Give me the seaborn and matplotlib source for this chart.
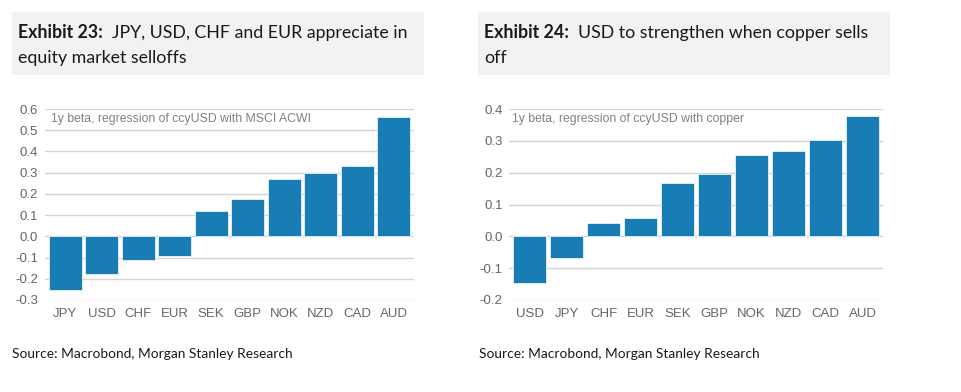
import numpy as np
import pandas as pd
import matplotlib
matplotlib.use("Agg")
import matplotlib.pyplot as plt
from matplotlib.patches import Rectangle
import seaborn as sns

# Exhibit 23: beta to MSCI ACWI
ccy_equity = ["JPY", "USD", "CHF", "EUR", "SEK", "GBP", "NOK", "NZD", "CAD", "AUD"]
beta_equity = [-0.253, -0.179, -0.110, -0.094, 0.118, 0.174, 0.270, 0.300, 0.331, 0.561]

# Exhibit 24: beta to copper
ccy_copper = ["USD", "JPY", "CHF", "EUR", "SEK", "GBP", "NOK", "NZD", "CAD", "AUD"]
beta_copper = [-0.148, -0.067, 0.041, 0.057, 0.166, 0.195, 0.254, 0.269, 0.302, 0.377]

sns.set_theme(style="white")
plt.rcParams['font.family'] = ['Liberation Sans', 'DejaVu Sans']

W, H = 962, 392
fig = plt.figure(figsize=(W / 100, H / 100), dpi=100)

bar_color = "#177db4"
tick_color = "#666666"
grid_color = "#d4d4d4"


def px_axes(x0, x1, ytop, ybot):
    return fig.add_axes([x0 / W, (H - ybot) / H, (x1 - x0) / W, (ybot - ytop) / H])


def draw_panel(ax, cats, vals, ylim, step, note, note_x):
    df = pd.DataFrame({"ccy": cats, "beta": vals})
    sns.barplot(data=df, x="ccy", y="beta", order=cats, color=bar_color, saturation=1,
                width=0.9, edgecolor="#e8f1f8", linewidth=0.6, ax=ax, zorder=3)
    ax.set_ylim(*ylim)
    ax.set_xlim(-0.55, len(cats) - 0.45)
    ticks = np.round(np.arange(ylim[0], ylim[1] + step / 2, step), 2)
    ax.set_yticks(ticks)
    ax.set_yticklabels([f"{t:.1f}" for t in ticks])
    ax.yaxis.grid(True, color=grid_color, linewidth=1.0, zorder=0)
    ax.set_axisbelow(True)
    for s in ax.spines.values():
        s.set_visible(False)
    ax.tick_params(axis="both", length=0, labelsize=9.5, colors=tick_color)
    ax.tick_params(axis="y", pad=5)
    ax.tick_params(axis="x", pad=6)
    ax.set_xlabel("")
    ax.set_ylabel("")
    ax.text(note_x, 0.948, note, transform=ax.transAxes, fontsize=8.8, color="#808080",
            va="center", ha="left", zorder=5)


ax1 = px_axes(45, 414, 109, 300)
draw_panel(ax1, ccy_equity, beta_equity, (-0.3, 0.6), 0.1,
           "1y beta, regression of ccyUSD with MSCI ACWI", 0.016)

ax2 = px_axes(509.5, 883, 109, 300)
draw_panel(ax2, ccy_copper, beta_copper, (-0.2, 0.4), 0.1,
           "1y beta, regression of ccyUSD with copper", 0.007)

# title boxes
title_font = ['Lato', 'DejaVu Sans']
for x0 in (12, 478):
    fig.patches.append(Rectangle((x0 / W, (H - 75) / H), 412 / W, 63 / H,
                                 transform=fig.transFigure, facecolor="#f2f2f2",
                                 edgecolor="none", zorder=0))

def title(x, bold, rest1, rest2):
    t = fig.text(x / W, (H - 38) / H, bold, fontsize=12.8, fontweight="bold",
                 family=title_font, color="#1a1a1a", va="baseline")
    fig.canvas.draw()
    bb = t.get_window_extent()
    fig.text((bb.x1 + 9) / W, (H - 38) / H, rest1, fontsize=12.8, family=title_font,
             color="#1a1a1a", va="baseline")
    fig.text(x / W, (H - 63) / H, rest2, fontsize=12.8, family=title_font,
             color="#1a1a1a", va="baseline")

title(18, "Exhibit 23:", "JPY, USD, CHF and EUR appreciate in", "equity market selloffs")
title(484, "Exhibit 24:", "USD to strengthen when copper sells", "off")

for x in (12, 479):
    fig.text(x / W, (H - 358) / H, "Source: Macrobond, Morgan Stanley Research",
             fontsize=9.9, family=title_font, color="#1a1a1a", va="baseline")

fig.savefig("out.png", dpi=100)
